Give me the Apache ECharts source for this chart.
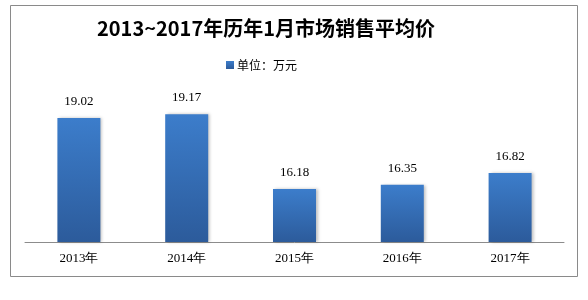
<!DOCTYPE html>
<html>
<head>
<meta charset="utf-8">
<script src="https://cdn.jsdelivr.net/npm/echarts@6/dist/echarts.min.js"></script>
<style>html,body{margin:0;padding:0;background:#fff}#c{width:588px;height:300px}</style>
</head>
<body>
<div id="c"></div>
<script>
var categories = ['2013年', '2014年', '2015年', '2016年', '2017年'];
var values = [19.02, 19.17, 16.18, 16.35, 16.82];
var seriesName = '单位：万元';
var titleText = '2013~2017年历年1月市场销售平均价';

var chart = echarts.init(document.getElementById('c'));
chart.setOption({
  animation: false,
  title: {
    text: titleText,
    left: 261, top: 13, textAlign: 'center',
    textStyle: { fontFamily: 'Noto Sans CJK SC', fontWeight: 'bold', fontSize: 20, color: '#000' }
  },
  legend: {
    data: [seriesName],
    left: 221, top: 54,
    itemWidth: 8, itemHeight: 8, itemGap: 4, icon: 'rect',
    textStyle: { fontFamily: 'Noto Sans CJK SC', fontSize: 12, color: '#000', padding: [0,0,0,-2] }
  },
  graphic: [{
    type: 'rect', shape: { x: 10.5, y: 5.5, width: 567, height: 271 },
    style: { fill: 'none', stroke: '#8a8a8a', lineWidth: 1 }, z: -1
  }],
  grid: { left: 25, right: 24, top: 92, bottom: 58 },
  xAxis: {
    type: 'category', data: categories,
    axisLine: { lineStyle: { color: '#8c8c8c', width: 1 } },
    axisTick: { show: false },
    axisLabel: { color: '#000', fontFamily: 'Liberation Serif', fontSize: 13, margin: 10 }
  },
  yAxis: {
    type: 'value', min: 14.06, max: 20.06, show: false,
    splitLine: { show: false }
  },
  series: [{
    name: seriesName, type: 'bar', data: values, barWidth: 43,
    itemStyle: {
      color: new echarts.graphic.LinearGradient(0, 0, 0, 1, [
        { offset: 0, color: '#3c7dcb' }, { offset: 1, color: '#2c5b9b' }
      ]),
      shadowBlur: 3, shadowColor: 'rgba(0,0,0,0.25)', shadowOffsetX: 2, shadowOffsetY: 0
    },
    label: {
      show: true, position: 'top', distance: 10, color: '#000',
      fontFamily: 'Liberation Serif', fontSize: 13,
      formatter: function (p) { return p.value.toFixed(2); }
    }
  }],
  color: ['#3d74c0']
});
</script>
</body>
</html>
